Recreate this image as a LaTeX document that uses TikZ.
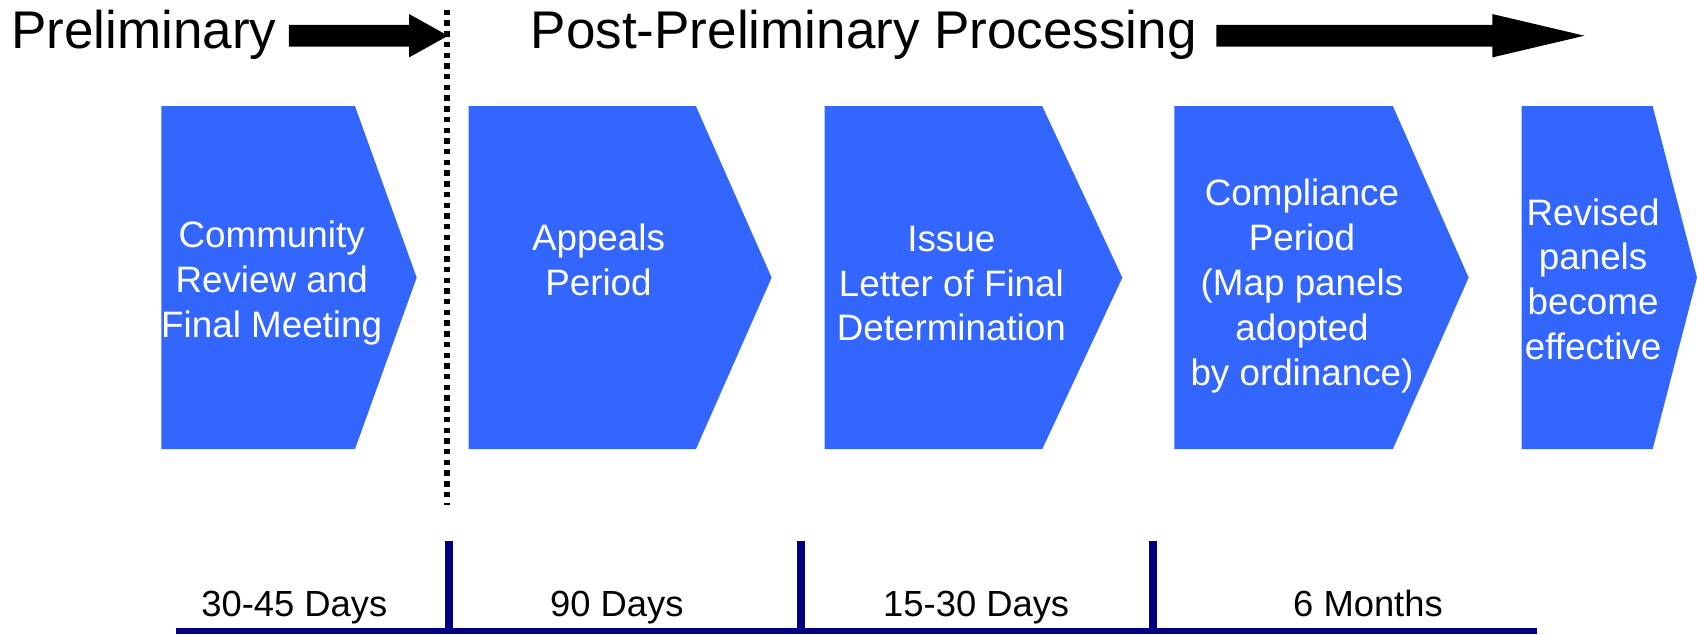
\documentclass[tikz,border=0pt]{standalone}
\usepackage{fontspec}
\setmainfont{Liberation Sans}
\definecolor{shapeblue}{HTML}{3366FF}
\definecolor{navyline}{HTML}{000080}
\begin{document}
\begin{tikzpicture}[x=0.5pt,y=-0.5pt,
  stage/.style={fill=shapeblue, draw=none},
  stagetext/.style={text=white, align=center, inner sep=0pt, font=\fontsize{17}{20.75}\selectfont},
  titletext/.style={anchor=base west, inner sep=0pt, font=\fontsize{24.5}{29}\selectfont},
  durtext/.style={anchor=base, inner sep=0pt, font=\fontsize{16.8}{20}\selectfont},
  bigarrow/.style={fill=black, draw=none},
  tickline/.style={draw=navyline, line width=3.6pt},
  baseline/.style={draw=navyline, line width=2.8pt},
  divider/.style={draw=black, line width=2.5pt, dash pattern=on 2.5pt off 2.45pt}
]
\useasboundingbox (0,0) rectangle (1568,586);

% titles
\node[titletext] (prelim) at (10,45) {Preliminary};
\node[titletext] (post) at (490,45) {Post-Preliminary Processing};

% big arrows
\fill[bigarrow] (267,23) -- (378,23) -- (378,13) -- (414,33) -- (378,53) -- (378,43) -- (267,43) -- cycle;
\fill[bigarrow] (1124,23) -- (1379,23) -- (1379,13) -- (1464,33) -- (1379,53) -- (1379,43) -- (1124,43) -- cycle;

% divider
\coordinate (divtop) at (413,9);
\coordinate (divbot) at (413,467);
\draw[divider] (divtop) -- (divbot);

% stages
\fill[stage] (149,98) -- (328,98) -- (385,256.5) -- (328,415) -- (149,415) -- cycle;
\fill[stage] (433,98) -- (643,98) -- (713,256.5) -- (643,415) -- (433,415) -- cycle;
\fill[stage] (762,98) -- (963,98) -- (1037,256.5) -- (963,415) -- (762,415) -- cycle;
\fill[stage] (1085,98) -- (1287,98) -- (1357,256.5) -- (1287,415) -- (1085,415) -- cycle;
\fill[stage] (1406,98) -- (1527,98) -- (1568,256.5) -- (1527,415) -- (1406,415) -- cycle;

\node[stagetext] (s1) at (251,261.5) {Community\\Review and\\Final Meeting};
\node[stagetext] (s2) at (553,240) {Appeals\\Period};
\node[stagetext] (s3) at (879,262) {Issue\\Letter of Final\\Determination};
\node[stagetext] (s4) at (1203,264) {Compliance\\Period\\(Map panels\\adopted\\by ordinance)};
\node[stagetext] (s5) at (1472,258) {Revised\\panels\\become\\effective};

% timeline
\coordinate (tlL) at (163,583);
\coordinate (tlR) at (1420,583);
\draw[baseline] (tlL) -- (tlR);
\coordinate (t1a) at (415,500); \coordinate (t1b) at (415,583);
\coordinate (t2a) at (740,500); \coordinate (t2b) at (740,583);
\coordinate (t3a) at (1065,500); \coordinate (t3b) at (1065,583);
\draw[tickline] (t1a) -- (t1b);
\draw[tickline] (t2a) -- (t2b);
\draw[tickline] (t3a) -- (t3b);

\node[durtext] (d1) at (272,570) {30-45 Days};
\node[durtext] (d2) at (570,570) {90 Days};
\node[durtext] (d3) at (902,570) {15-30 Days};
\node[durtext] (d4) at (1264,570) {6 Months};
\end{tikzpicture}
\end{document}
